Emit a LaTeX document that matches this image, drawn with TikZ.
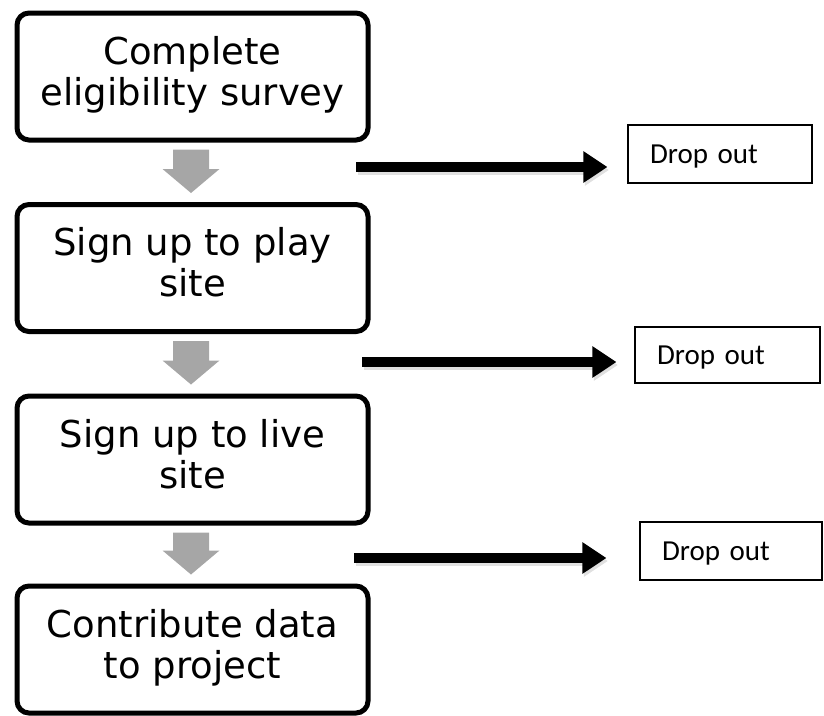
\documentclass[tikz,border=0pt]{standalone}
\usepackage{fontspec}
\newfontfamily\boxfont{DejaVu Sans}
\newfontfamily\dropfont{Carlito}
\usetikzlibrary{calc,arrows.meta}
\definecolor{arrowgray}{HTML}{A6A6A6}
\tikzset{
  stepbox/.style={draw=black, line width=5pt, rounded corners=12pt, fill=white,
    minimum width=351pt, minimum height=127pt, inner sep=0pt,
    align=center, font=\boxfont\fontsize{37pt}{40pt}\selectfont},
  dropbox/.style={draw=black, line width=1.2pt, inner xsep=0pt, inner ysep=0pt,
    align=left, text height=19pt, text depth=0pt,
    font=\dropfont\fontsize{29pt}{32pt}\selectfont},
  droparrow/.style={line width=10pt, -{Triangle[length=24pt,width=30pt]}},
  dropshade/.style={droparrow, draw=black, opacity=0.12,
    transform canvas={shift={(1.5pt,-3pt)}}},
  grayarrow/.style={fill=arrowgray, draw=none}
}
\newcommand{\grayblock}[2]{%
  \fill[grayarrow] let \p1=($(#1.south)+(-1.5,7)$), \p2=($(#2.north)+(0,-9)$) in
    (\x1-18pt,\y1) -- (\x1+18pt,\y1) -- (\x1+18pt,\y2+24pt) -- (\x1+28.5pt,\y2+24pt)
    -- (\x1,\y2) -- (\x1-28.5pt,\y2+24pt) -- (\x1-18pt,\y2+24pt) -- cycle;}
\begin{document}
\begin{tikzpicture}[x=1pt,y=-1pt]
\useasboundingbox (0,0) rectangle (824,715);
% main steps
\node[stepbox] (b1) at (192.5,76.5) {\strut Complete\\\strut eligibility survey};
\node[stepbox] (b2) at (192.5,268) {\strut Sign up to play\\\strut site};
\node[stepbox] (b3) at (192.5,459.5) {\strut Sign up to live\\\strut site};
\node[stepbox] (b4) at (192.5,649.5) {\strut Contribute data\\\strut to project};
% gray block arrows
\grayblock{b1}{b2}
\grayblock{b2}{b3}
\grayblock{b3}{b4}
% drop out boxes
\node[dropbox, minimum width=184pt, minimum height=58pt, text width=184pt] (d1) at (720,154) {\hspace*{22pt}Drop out};
\node[dropbox, minimum width=185pt, minimum height=56pt, text width=185pt] (d2) at (727.5,355) {\hspace*{22pt}Drop out};
\node[dropbox, minimum width=182pt, minimum height=58pt, text width=182pt] (d3) at (731,551) {\hspace*{22pt}Drop out};
% black arrows
\coordinate (s1) at (356,167);
\coordinate (s2) at (362,362);
\coordinate (s3) at (354,558);
\draw[dropshade, shorten >=20pt] (s1) -- (s1 -| d1.west);
\draw[dropshade, shorten >=18pt] (s2) -- (s2 -| d2.west);
\draw[dropshade, shorten >=33pt] (s3) -- (s3 -| d3.west);
\draw[droparrow, shorten >=20pt] (s1) -- (s1 -| d1.west);
\draw[droparrow, shorten >=18pt] (s2) -- (s2 -| d2.west);
\draw[droparrow, shorten >=33pt] (s3) -- (s3 -| d3.west);
\end{tikzpicture}
\end{document}
